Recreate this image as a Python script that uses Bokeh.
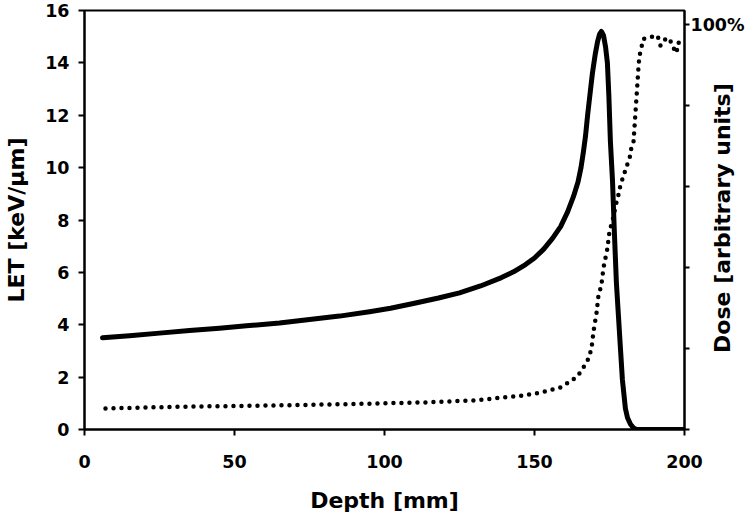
import math
from bokeh.plotting import figure
from bokeh.models import LinearAxis, Range1d, FixedTicker
from bokeh.embed import file_html
from bokeh.resources import INLINE

# LET curve (solid, left axis, keV/um)
depth_let = [6, 15, 25, 35, 45, 54, 65, 75, 85, 95, 102, 110, 118, 125, 132, 139, 143, 147,
             150, 153, 156, 158.7, 161, 163, 164.5, 165.5, 166.3, 167, 167.7, 168.5, 169.3,
             170.2, 171, 171.7, 172.3, 173, 173.7, 174.3, 174.8, 175.3, 176, 176.6, 177.3,
             178, 178.7, 179.3, 180.3, 181, 182, 183, 184, 190, 200]
let_vals = [3.5, 3.58, 3.68, 3.78, 3.87, 3.96, 4.07, 4.2, 4.33, 4.5, 4.63, 4.82, 5.02, 5.22,
            5.48, 5.8, 6.02, 6.3, 6.55, 6.88, 7.3, 7.75, 8.3, 8.9, 9.45, 10.0, 10.6, 11.2,
            12.0, 12.8, 13.6, 14.3, 14.8, 15.1, 15.2, 15.05, 14.6, 14.0, 12.7, 11.0, 9.5,
            7.6, 5.6, 4.3, 3.0, 1.9, 0.8, 0.45, 0.2, 0.06, 0.0, 0.0, 0.0]

# Dose curve (dotted, right axis, % of max)
depth_dose = [7, 30, 60, 90, 114, 130, 145, 152, 158.7, 161.3, 164.3, 166.3, 168, 169, 169.7,
              170.7, 171.3, 172.3, 173, 174.3, 175, 176, 177.3, 178, 178.7, 179.7, 180.7,
              181.7, 182.3, 183, 183.7, 184.3, 184.7, 185, 186.3, 188, 191, 192, 194, 195.7,
              196.3, 197.3, 198, 199.3]
dose_vals = [5.2, 5.6, 5.9, 6.3, 6.7, 7.2, 8.3, 9.1, 10.4, 11.6, 13.1, 15.3, 17.5, 20, 24.4,
             28.9, 33, 35.7, 40, 44.7, 49, 51.6, 56, 58, 60.5, 62.7, 65,
             67, 69.6, 71, 78.8, 85.4, 90, 92.3, 96.5, 96.8, 97.3, 94.8, 96.8, 95.6,
             94.3, 93, 95.6, 94.3]

x_ticks = [0, 50, 100, 150, 200]
y_ticks = [0, 2, 4, 6, 8, 10, 12, 14, 16]
dose_ticks = [0, 20, 40, 60, 80, 100]
dose_tick_labels = {0: "", 20: "", 40: "", 60: "", 80: "", 100: "100%"}
dose_title = "Dose [arbitrary units]"

FONT = "DejaVu Sans"

p = figure(width=750, height=518, x_range=Range1d(0, 200), y_range=Range1d(0, 16),
           output_backend="svg", toolbar_location=None,
           min_border_left=84, min_border_right=66, min_border_top=10, min_border_bottom=89)
p.extra_y_ranges = {"dose": Range1d(0, 103.5)}
p.grid.visible = False
p.outline_line_color = "black"
p.outline_line_width = 2

p.line(depth_let, let_vals, line_color="black", line_width=5, line_join="round", line_cap="round")
p.line(depth_dose, dose_vals, y_range_name="dose", line_color="black", line_width=4.5,
       line_dash="0 8", line_cap="round")

def style(ax, ticks, font_size="17.5px", standoff=9):
    ax.ticker = FixedTicker(ticks=ticks)
    ax.axis_line_color = "black"
    ax.axis_line_width = 2
    ax.major_tick_line_color = "black"
    ax.major_tick_line_width = 2
    ax.major_tick_in = 0
    ax.major_tick_out = 6
    ax.minor_tick_line_color = None
    ax.major_label_text_font = FONT
    ax.major_label_text_font_style = "bold"
    ax.major_label_text_font_size = font_size
    ax.major_label_text_color = "black"
    ax.major_label_standoff = standoff
    ax.axis_label_text_font = FONT
    ax.axis_label_text_font_style = "bold"
    ax.axis_label_text_font_size = "22px"
    ax.axis_label_text_color = "black"

xa = p.xaxis[0]
style(xa, x_ticks, standoff=19)
xa.axis_label = "Depth [mm]"
xa.axis_label_standoff = 17

ya = p.yaxis[0]
style(ya, y_ticks, standoff=9)
ya.axis_label = "LET [keV/μm]"
ya.axis_label_standoff = 13

ra = LinearAxis(y_range_name="dose")
style(ra, dose_ticks, standoff=1)
ra.major_tick_out = 5
ra.major_label_overrides = dose_tick_labels
props = ra.properties()
if "axis_label_align" in props and "axis_label_orientation" in props:
    ra.axis_label_orientation = math.pi / 2
    ra.axis_label_align = "start"
    ra.axis_label = "\u00a0" * 10 + dose_title
    ra.axis_label_standoff = -25
else:
    ra.axis_label = dose_title
    ra.axis_label_standoff = -29
p.add_layout(ra, "right")

open("out.html", "w").write(file_html(p, INLINE))
